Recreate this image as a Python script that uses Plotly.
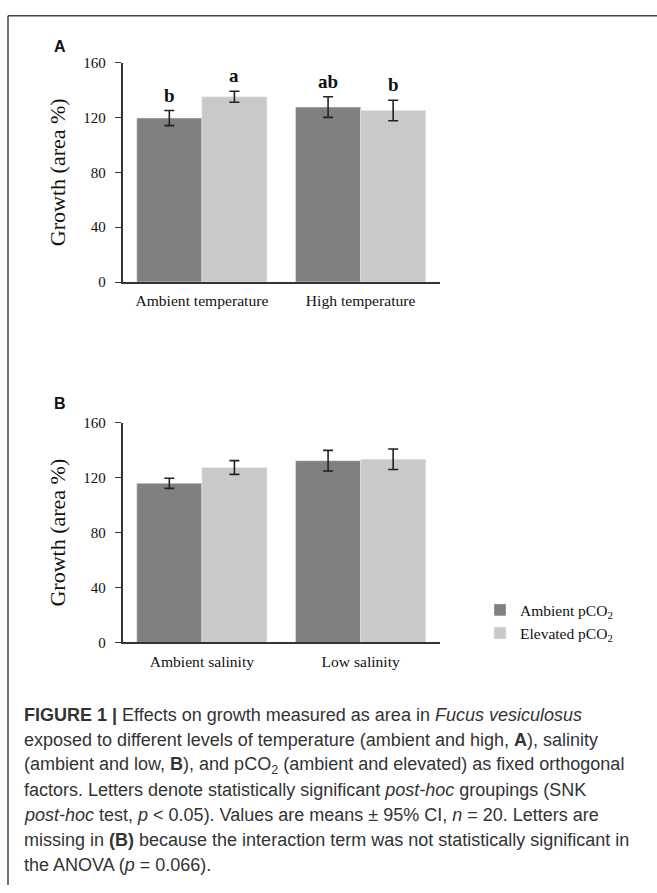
import plotly.graph_objects as go

# ---- data ----
cats_a = ["Ambient temperature", "High temperature"]
cats_b = ["Ambient salinity", "Low salinity"]
series_names = ["Ambient pCO<sub>2</sub>", "Elevated pCO<sub>2</sub>"]

a_ambient = [119.5, 127.5]
a_ambient_ci = [5.5, 7.5]
a_elevated = [135.0, 125.0]
a_elevated_ci = [4.0, 7.5]
a_letters_ambient = ["b", "ab"]
a_letters_elevated = ["a", "b"]

b_ambient = [116.0, 132.5]
b_ambient_ci = [3.7, 7.5]
b_elevated = [127.5, 133.5]
b_elevated_ci = [5.0, 7.5]

y_ticks = [0, 40, 80, 120, 160]

caption_lines = [
    "<b>FIGURE 1 |</b> Effects on growth measured as area in <i>Fucus vesiculosus</i>",
    "exposed to different levels of temperature (ambient and high, <b>A</b>), salinity",
    "(ambient and low, <b>B</b>), and pCO<sub>2</sub> (ambient and elevated) as fixed orthogonal",
    "factors. Letters denote statistically significant <i>post-hoc</i> groupings (SNK",
    "<i>post-hoc</i> test, <i>p</i> &lt; 0.05). Values are means ± 95% CI, <i>n</i> = 20. Letters are",
    "missing in <b>(B)</b> because the interaction term was not statistically significant in",
    "the ANOVA (<i>p</i> = 0.066).",
]

# ---- style ----
W, H = 657, 893
DARK = "#808080"
LIGHT = "#c9c9c9"
SERIF = "Liberation Serif, Times New Roman, serif"
SANS = "Liberation Sans, Arial, sans-serif"
BARGAP = 0.18

x0, x1 = 122.5, 440.0
ya = (55.5, 279.0)
yb = (422.5, 646.0)


def py(px):
    return 1 - px / H


fig = go.Figure()

err_style = dict(type="data", thickness=1.6, width=5, color="#222222")

fig.add_trace(go.Bar(x=cats_a, y=a_ambient, name=series_names[0], marker_color=DARK,
                     error_y=dict(array=a_ambient_ci, **err_style),
                     xaxis="x", yaxis="y", showlegend=False, legendgroup="amb"))
fig.add_trace(go.Bar(x=cats_a, y=a_elevated, name=series_names[1], marker_color=LIGHT,
                     error_y=dict(array=a_elevated_ci, **err_style),
                     xaxis="x", yaxis="y", showlegend=False, legendgroup="elev"))
fig.add_trace(go.Bar(x=cats_b, y=b_ambient, name=series_names[0], marker_color=DARK,
                     error_y=dict(array=b_ambient_ci, **err_style),
                     xaxis="x2", yaxis="y2", legendgroup="amb"))
fig.add_trace(go.Bar(x=cats_b, y=b_elevated, name=series_names[1], marker_color=LIGHT,
                     error_y=dict(array=b_elevated_ci, **err_style),
                     xaxis="x2", yaxis="y2", legendgroup="elev"))

axis_common = dict(showline=True, linecolor="#333333", linewidth=1.5, showgrid=False,
                   zeroline=False, tickfont=dict(family=SERIF, size=15, color="#111111"))
yaxis_common = dict(axis_common, range=[0, 160], tickvals=y_ticks, ticks="outside",
                    ticklen=6, tickwidth=1.2, tickcolor="#333333", ticklabelstandoff=6,
                    title=dict(text="Growth (area %)", font=dict(family=SERIF, size=22, color="#111111"),
                               standoff=12))
xaxis_common = dict(axis_common, ticks="", domain=[x0 / W, x1 / W], ticklabelstandoff=4,
                    tickfont=dict(family=SERIF, size=15.6, color="#111111"))

fig.update_layout(
    width=W, height=H,
    margin=dict(l=0, r=0, t=0, b=0),
    paper_bgcolor="white", plot_bgcolor="white",
    barmode="group", bargap=BARGAP, bargroupgap=0,
    xaxis=dict(xaxis_common, anchor="y"),
    yaxis=dict(yaxis_common, domain=[py(ya[1]), py(ya[0])], anchor="x"),
    xaxis2=dict(xaxis_common, anchor="y2"),
    yaxis2=dict(yaxis_common, domain=[py(yb[1]), py(yb[0])], anchor="x2"),
    legend=dict(x=480 / W, y=py(596), xanchor="left", yanchor="top",
                font=dict(family=SERIF, size=15.5, color="#111111"),
                bgcolor="rgba(0,0,0,0)", borderwidth=0, tracegroupgap=0),
    showlegend=True,
)

# significance letters above error bars
cat_px = (x1 - x0) / 2
bar_w = cat_px * (1 - BARGAP) / 2
for cats, vals, cis, letters, shift in [
    (cats_a, a_ambient, a_ambient_ci, a_letters_ambient, -bar_w / 2),
    (cats_a, a_elevated, a_elevated_ci, a_letters_elevated, bar_w / 2),
]:
    for c, v, e, t in zip(cats, vals, cis, letters):
        fig.add_annotation(x=c, y=v + e, xref="x", yref="y", text=f"<b>{t}</b>",
                           showarrow=False, xshift=shift, yanchor="bottom", yshift=3,
                           font=dict(family=SERIF, size=19, color="#111111"))

# panel letters
for lbl, ypx in [("A", 39), ("B", 403)]:
    fig.add_annotation(x=60 / W, y=py(ypx), xref="paper", yref="paper", text=f"<b>{lbl}</b>",
                       showarrow=False, xanchor="center", yanchor="middle",
                       font=dict(family=SANS, size=16, color="#111111"))

# caption
cap_y = [720, 745.5, 771, 796.5, 822, 847.5, 873]
for line, ypx in zip(caption_lines, cap_y):
    fig.add_annotation(x=22 / W, y=py(ypx), xref="paper", yref="paper", text=line,
                       showarrow=False, xanchor="left", yanchor="middle", align="left",
                       font=dict(family=SANS, size=18, color="#333333"))

# frame lines (top and left)
fig.add_shape(type="line", xref="paper", yref="paper", x0=8 / W, x1=1, y0=py(8), y1=py(8),
              line=dict(color="#444444", width=1.5))
fig.add_shape(type="line", xref="paper", yref="paper", x0=8 / W, x1=8 / W, y0=py(8), y1=0,
              line=dict(color="#444444", width=1.5))

fig.write_html("out.html", config={"displayModeBar": False},
               post_script="document.body.style.margin='0';")
